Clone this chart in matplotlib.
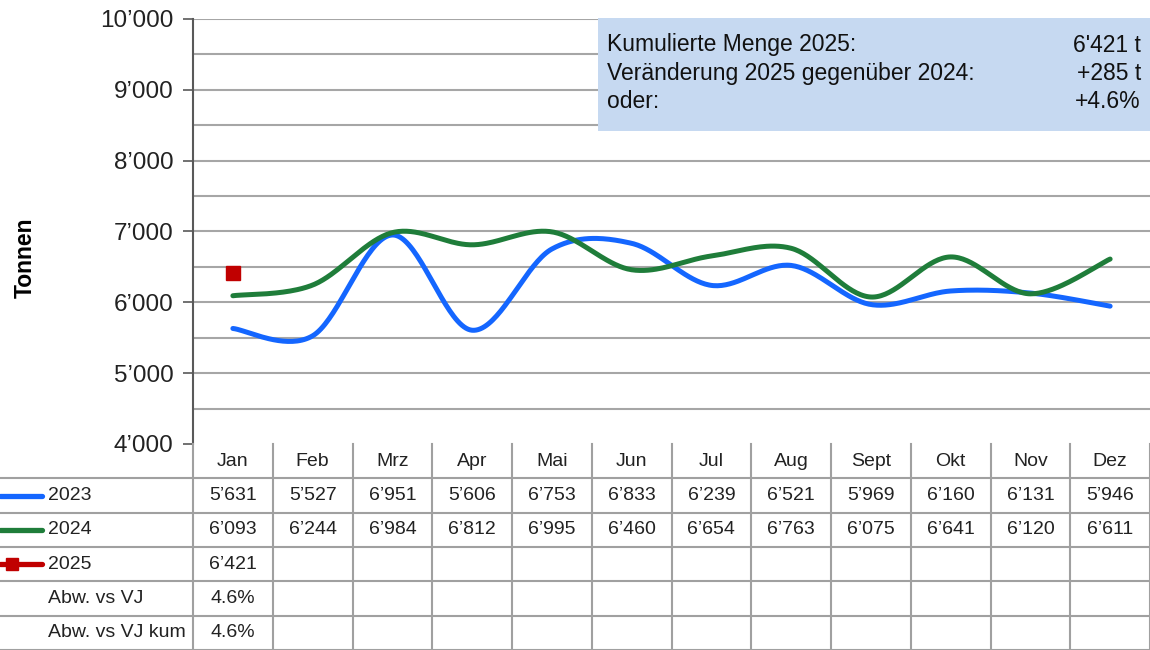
import numpy as np
import matplotlib.pyplot as plt
from matplotlib.patches import Rectangle

plt.rcParams['font.family'] = ['Liberation Sans', 'DejaVu Sans']

months = ['Jan', 'Feb', 'Mrz', 'Apr', 'Mai', 'Jun', 'Jul', 'Aug', 'Sept', 'Okt', 'Nov', 'Dez']
y2023 = [5631, 5527, 6951, 5606, 6753, 6833, 6239, 6521, 5969, 6160, 6131, 5946]
y2024 = [6093, 6244, 6984, 6812, 6995, 6460, 6654, 6763, 6075, 6641, 6120, 6611]
y2025 = [6421]
abw_vj = ['4.6%']
abw_vj_kum = ['4.6%']

box_labels = ['Kumulierte Menge 2025:', 'Veränderung 2025 gegenüber 2024:', 'oder:']
box_values = ["6'421 t", '+285 t', '+4.6%']

c2023 = '#1466FF'
c2024 = '#1F7D3A'
c2025 = '#C00000'
grid_c = '#A6A6A6'

W, H = 1150, 650


def fmt(v):
    return f'{v:,}'.replace(',', '\u2019')


def smooth(ys, n=40):
    # Excel-like smoothed line (Catmull-Rom bezier segments)
    xs = np.arange(len(ys), dtype=float)
    ys = np.asarray(ys, dtype=float)
    outx, outy = [], []
    t = np.linspace(0, 1, n)
    for i in range(len(ys) - 1):
        res = []
        for p in (xs, ys):
            p0 = p[i - 1] if i > 0 else p[i]
            p3 = p[i + 2] if i + 2 < len(p) else p[i + 1]
            c1 = p[i] + (p[i + 1] - p0) / 6
            c2 = p[i + 1] - (p3 - p[i]) / 6
            res.append((1 - t) ** 3 * p[i] + 3 * (1 - t) ** 2 * t * c1
                       + 3 * (1 - t) * t ** 2 * c2 + t ** 3 * p[i + 1])
        outx.append(res[0])
        outy.append(res[1])
    return np.concatenate(outx), np.concatenate(outy)


fig = plt.figure(figsize=(W / 100, H / 100), dpi=100)

ax_left, ax_top, ax_bot = 193, 19, 444
ax = fig.add_axes([ax_left / W, 1 - ax_bot / H, (W - ax_left) / W, (ax_bot - ax_top) / H])
ax.set_xlim(-0.5, 11.5)
ax.set_ylim(4000, 10000)
for y in np.arange(4500, 10001, 500):
    ax.axhline(y, color=grid_c, lw=1.5, zorder=0)
ax.set_yticks(np.arange(4000, 10001, 1000))
ax.set_yticklabels([fmt(v) for v in range(4000, 10001, 1000)], fontsize=17.5, color='#222222')
ax.tick_params(axis='y', length=7, width=1.2, color='#595959', pad=7)
ax.set_xticks([])
for s in ['top', 'right', 'bottom']:
    ax.spines[s].set_visible(False)
ax.spines['left'].set_color('#595959')
ax.spines['left'].set_linewidth(1.5)

sx, sy = smooth(y2023)
ax.plot(sx, sy, color=c2023, lw=3.6, solid_capstyle='round', zorder=3)
sx, sy = smooth(y2024)
ax.plot(sx, sy, color=c2024, lw=3.6, solid_capstyle='round', zorder=3)
ax.plot(range(len(y2025)), y2025, 's', color=c2025, ms=10, zorder=4)

fig.text(25 / W, 1 - 258 / H, 'Tonnen', rotation=90, fontsize=16.5, fontweight='bold',
         ha='center', va='center')

# info box
bx0, bx1, by0, by1 = 598, 1150, 18, 131
fig.patches.append(Rectangle((bx0 / W, 1 - by1 / H), (bx1 - bx0) / W, (by1 - by0) / H,
                             transform=fig.transFigure, facecolor='#C6D9F1',
                             edgecolor='none', zorder=5))
for i, (lab, val) in enumerate(zip(box_labels, box_values)):
    yy = 1 - (45 + 28.5 * i) / H
    fig.text(607 / W, yy, lab, fontsize=16.5, ha='left', va='center', zorder=6, color='#111111')
    fig.text(1141 / W, yy, val, fontsize=16.5, ha='right', va='center', zorder=6, color='#111111')

# data table
tab_h = H - ax_bot
tax = fig.add_axes([0, 0, 1, tab_h / H])
ppu = (W - ax_left) / 12
xl = -0.5 - ax_left / ppu
tax.set_xlim(xl, 11.5)
tax.set_ylim(6, 0)
tax.axis('off')
tc = '#A0A0A0'
for r in range(1, 7):
    tax.plot([xl, 11.5], [r, r], color=tc, lw=1.5, clip_on=False)
for c in range(13):
    tax.plot([c - 0.5, c - 0.5], [0, 6], color=tc, lw=1.5, clip_on=False)

fs = 14
for i, m in enumerate(months):
    tax.text(i, 0.5, m, ha='center', va='center', fontsize=fs, color='#222222')
for i, v in enumerate(y2023):
    tax.text(i, 1.5, fmt(v), ha='center', va='center', fontsize=fs, color='#222222')
for i, v in enumerate(y2024):
    tax.text(i, 2.5, fmt(v), ha='center', va='center', fontsize=fs, color='#222222')
for i, v in enumerate(y2025):
    tax.text(i, 3.5, fmt(v), ha='center', va='center', fontsize=fs, color='#222222')
for i, v in enumerate(abw_vj):
    tax.text(i, 4.5, v, ha='center', va='center', fontsize=fs, color='#222222')
for i, v in enumerate(abw_vj_kum):
    tax.text(i, 5.5, v, ha='center', va='center', fontsize=fs, color='#222222')

row_labels = ['2023', '2024', '2025', 'Abw. vs VJ', 'Abw. vs VJ kum']
row_colors = [c2023, c2024, c2025, None, None]
for r, (lab, col) in enumerate(zip(row_labels, row_colors)):
    yc = r + 1.5
    if col is not None:
        tax.plot([xl, xl + 42 / ppu], [yc, yc], color=col, lw=3.8,
                 solid_capstyle='round', clip_on=False)
    if lab == '2025':
        tax.plot([xl + 12 / ppu], [yc], 's', color=col, ms=8, clip_on=False)
    tax.text(xl + 48 / ppu, yc, lab, ha='left', va='center', fontsize=fs, color='#222222')

fig.savefig('out.png', dpi=100)
